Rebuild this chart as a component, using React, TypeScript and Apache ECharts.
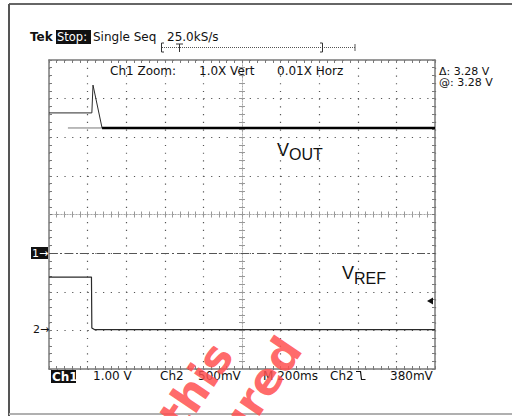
import React, { useEffect, useRef } from "react";
import * as echarts from "echarts";

// ---- data (time in ms, voltages in V) ----
const ch1TimeMs = [0, 222, 228, 275, 2000];
const ch1Volts = [3.63, 3.63, 4.35, 3.24, 3.24];
const ch1SettledFrom = 3;
const ch1GhostTimeMs = [98, 275];
const ch1GhostVolts = [3.24, 3.24];
const ch2TimeMs = [0, 220, 222, 235, 2000];
const ch2Volts = [0.69, 0.69, 0.03, 0.01, 0.01];

const ch1VoltsPerDiv = 1.0;
const ch2VoltsPerDiv = 0.5;
const ch1GroundDiv = -1;
const ch2GroundDiv = -3;
const triggerLevelV = 0.38;

const timeMinMs = 0;
const timeMaxMs = 2000;
const timePerDivMs = 200;
const divMin = -4;
const divMax = 4;

const topTexts = ["Tek", "Stop:", "Single Seq", "25.0kS/s"];
const zoomTexts = ["Ch1 Zoom:", "1.0X Vert", "0.01X Horz"];
const cursorTexts = ["\u0394: 3.28 V", "@: 3.28 V"];
const bottomTexts = ["Ch1", "1.00 V", "Ch2", "500mV", "M 200ms", "Ch2", "380mV"];

const toDiv = (v: number, vpd: number, gnd: number) => v / vpd + gnd;

export default function App() {
  const ref = useRef<HTMLDivElement>(null);
  useEffect(() => {
    if (!ref.current) return;
    const chart = echarts.init(ref.current, undefined, { renderer: "svg" });

    const ch1Data = ch1TimeMs.map((t, i) => [t, toDiv(ch1Volts[i], ch1VoltsPerDiv, ch1GroundDiv)]);
    const ch1Settled = ch1Data.slice(ch1SettledFrom);
    const ch1Ghost = ch1GhostTimeMs.map((t, i) => [t, toDiv(ch1GhostVolts[i], ch1VoltsPerDiv, ch1GroundDiv)]);
    const ch2Data = ch2TimeMs.map((t, i) => [t, toDiv(ch2Volts[i], ch2VoltsPerDiv, ch2GroundDiv)]);
    const trigDiv = toDiv(triggerLevelV, ch2VoltsPerDiv, ch2GroundDiv);

    const border = "#7a7a7a";
    const gridDot = "#555";
    const font = "DejaVu Sans";

    const baseX = {
      type: "value",
      min: timeMinMs,
      max: timeMaxMs,
      interval: timePerDivMs,
      axisLabel: { show: false },
    };
    const baseY = {
      type: "value",
      min: divMin,
      max: divMax,
      interval: 1,
      axisLabel: { show: false },
    };
    const borderAxis = (inside: boolean) => ({
      axisLine: { show: true, onZero: false, lineStyle: { color: border, width: 1.5 } },
      axisTick: { show: true, inside, length: 3, lineStyle: { color: border } },
      minorTick: { show: true, splitNumber: 5, length: 3, lineStyle: { color: border } },
    });
    const centerAxis = (inside: boolean) => ({
      axisLine: { show: true, onZero: false, lineStyle: { color: "#aaa", width: 1, type: [1, 2] } },
      axisTick: { show: true, inside, length: 3, lineStyle: { color: "#999" } },
      minorTick: { show: true, splitNumber: 5, length: 3, lineStyle: { color: "#999" } },
      splitLine: { show: false },
    });

    const txt = (text: string, x: number, y: number, extra: any = {}) => ({
      type: "text",
      x,
      y,
      z: 20,
      style: {
        text,
        fill: "#111",
        fontSize: 12,
        fontFamily: font,
        align: "left",
        verticalAlign: "middle",
        ...extra,
      },
    });
    const ln = (x1: number, y1: number, x2: number, y2: number, stroke = "#444", lineWidth = 1, extra: any = {}) => ({
      type: "line",
      z: 20,
      shape: { x1, y1, x2, y2 },
      style: { stroke, lineWidth, ...extra },
    });
    const poly = (points: number[][], stroke = "#333", lineWidth = 1) => ({
      type: "polyline",
      z: 20,
      shape: { points },
      style: { stroke, lineWidth, fill: "none" },
    });

    chart.setOption({
      animation: false,
      backgroundColor: "#fff",
      grid: { left: 49, top: 60, width: 386, height: 309, containLabel: false },
      xAxis: [
        {
          ...baseX,
          position: "bottom",
          ...borderAxis(true),
          splitLine: { show: true, lineStyle: { color: gridDot, width: 1.2, type: [1.2, 6.52] } },
        },
        { ...baseX, position: "top", ...borderAxis(true), splitLine: { show: false } },
        { ...baseX, position: "bottom", offset: -154.5, ...centerAxis(true) },
        { ...baseX, position: "bottom", offset: -154.5, ...centerAxis(false) },
      ],
      yAxis: [
        {
          ...baseY,
          position: "left",
          ...borderAxis(true),
          splitLine: { show: true, lineStyle: { color: gridDot, width: 1.2, type: [1.2, 6.52] } },
        },
        { ...baseY, position: "right", ...borderAxis(true), splitLine: { show: false } },
        { ...baseY, position: "left", offset: -193, ...centerAxis(true) },
        { ...baseY, position: "left", offset: -193, ...centerAxis(false) },
      ],
      series: [
        {
          name: "Ch1 ghost",
          type: "line",
          data: ch1Ghost,
          showSymbol: false,
          lineStyle: { color: "#777", width: 1 },
          z: 3,
        },
        {
          name: "Ch1",
          type: "line",
          data: ch1Data,
          showSymbol: false,
          lineStyle: { color: "#2a2a2a", width: 1 },
          z: 4,
          markLine: {
            silent: true,
            symbol: ["none", "none"],
            label: { show: false },
            lineStyle: { color: "#555", width: 1, type: [8, 3, 2, 3] },
            data: [{ yAxis: ch1GroundDiv }],
          },
        },
        {
          name: "Ch1 settled",
          type: "line",
          data: ch1Settled,
          showSymbol: false,
          lineStyle: { color: "#000", width: 2.5 },
          z: 5,
        },
        {
          name: "Ch2",
          type: "line",
          data: ch2Data,
          showSymbol: false,
          lineStyle: { color: "#2a2a2a", width: 1.2 },
          z: 4,
          markPoint: {
            silent: true,
            symbol: "triangle",
            symbolSize: [7, 6],
            symbolRotate: 90,
            symbolOffset: [-5, 0],
            itemStyle: { color: "#111" },
            label: { show: false },
            data: [{ coord: [timeMaxMs, trigDiv] }],
          },
        },
      ],
      graphic: [
        // outer frame
        ln(9, 4, 512, 4, "#666", 2),
        ln(9, 4, 9, 416, "#555", 2),
        ln(9, 414, 512, 414, "#b0b0b0", 2),
        // header
        txt(topTexts[0], 30, 37, { fontWeight: "bold" }),
        { type: "rect", z: 19, shape: { x: 56, y: 30, width: 35, height: 14 }, style: { fill: "#111" } },
        txt(topTexts[1], 57, 37, { fill: "#fff", fontSize: 11.5 }),
        txt(topTexts[2], 93, 37),
        txt(topTexts[3], 167, 37),
        // record bracket
        ln(162, 47.5, 355, 47.5, "#555", 1, { lineDash: [1, 1] }),
        poly([[164, 43], [161.5, 43], [161.5, 52], [164, 52]], "#333"),
        poly([[320, 43], [322.5, 43], [322.5, 52], [320, 52]], "#333"),
        ln(176, 44, 183, 44, "#333", 1),
        ln(179.5, 44, 179.5, 52, "#333", 1),
        ln(355, 44, 355, 51, "#555", 1),
        // zoom line
        txt(zoomTexts[0], 110, 71),
        txt(zoomTexts[1], 199, 71),
        txt(zoomTexts[2], 277, 71),
        // cursor readouts
        txt(cursorTexts[0], 439, 71, { fontSize: 11 }),
        txt(cursorTexts[1], 439, 82.5, { fontSize: 11 }),
        // ground markers
        { type: "rect", z: 19, shape: { x: 31, y: 247, width: 17, height: 12 }, style: { fill: "#111" } },
        txt("1\u2192", 32, 253, { fill: "#fff", fontSize: 11 }),
        txt("2\u2192", 33, 329, { fontSize: 11 }),
        // trace labels
        txt("V", 277, 150, { fontSize: 18, fontFamily: "Liberation Sans" }),
        txt("OUT", 289, 154, { fontSize: 16, fontFamily: "Liberation Sans" }),
        txt("V", 342, 273, { fontSize: 18, fontFamily: "Liberation Sans" }),
        txt("REF", 354, 278, { fontSize: 16, fontFamily: "Liberation Sans" }),
        // bottom readout
        { type: "rect", z: 19, shape: { x: 51, y: 370, width: 25, height: 13 }, style: { fill: "#111" } },
        txt(bottomTexts[0], 52, 376.5, { fill: "#fff", fontWeight: "bold" }),
        txt(bottomTexts[1], 93, 376),
        txt(bottomTexts[2], 160, 376),
        txt(bottomTexts[3], 198, 376),
        txt(bottomTexts[4], 263, 376),
        txt(bottomTexts[5], 330, 376),
        poly([[356, 371.5], [360.5, 371.5], [361.5, 379.5], [365.5, 379.5]], "#111", 1.2),
        txt(bottomTexts[6], 390, 376),
        // watermark
        {
          type: "text",
          x: 196,
          y: 386,
          rotation: (56 * Math.PI) / 180,
          z: 100,
          style: {
            text: "this",
            fill: "#ff5050",
            opacity: 0.85,
            fontSize: 44,
            fontWeight: "bold",
            fontFamily: font,
            align: "center",
            verticalAlign: "middle",
          },
        },
        {
          type: "text",
          x: 259,
          y: 389,
          rotation: (56 * Math.PI) / 180,
          z: 100,
          style: {
            text: "ured",
            fill: "#ff5050",
            opacity: 0.85,
            fontSize: 44,
            fontWeight: "bold",
            fontFamily: font,
            align: "center",
            verticalAlign: "middle",
          },
        },
      ],
    });
    return () => chart.dispose();
  }, []);
  return (
    <div
      ref={ref}
      style={{ position: "absolute", left: 0, top: 0, width: 512, height: 416, background: "#fff" }}
    />
  );
}
